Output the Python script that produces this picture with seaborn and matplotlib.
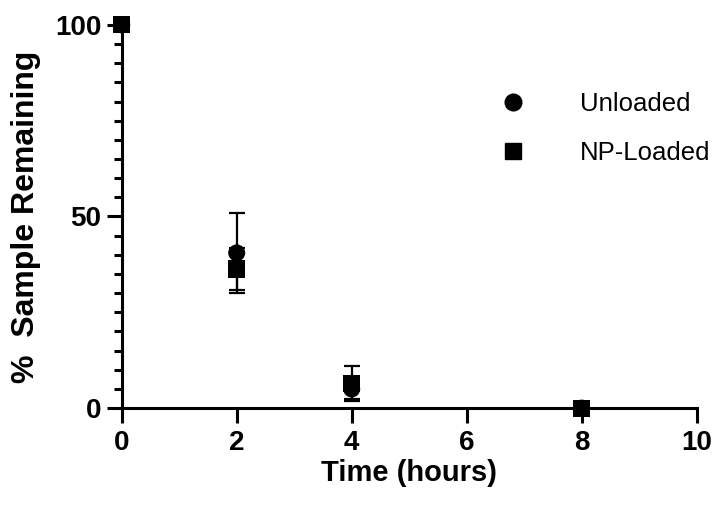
import matplotlib
matplotlib.use("Agg")
import matplotlib.pyplot as plt
import seaborn as sns
import pandas as pd
import numpy as np
from matplotlib.ticker import MultipleLocator
from matplotlib.lines import Line2D

sns.set_theme(style="ticks", rc={
    "text.color": "black", "axes.labelcolor": "black",
    "xtick.color": "black", "ytick.color": "black", "axes.edgecolor": "black",
})
plt.rcParams['font.family'] = ['Liberation Sans', 'DejaVu Sans']

# ---- data ----
time_hours = [0, 2, 4, 8]
unloaded_mean = [100, 40.5, 5.0, 0]
unloaded_sd = [0, 10.4, 2.6, 0]
nploaded_mean = [100, 36.3, 6.5, 0]
nploaded_sd = [0, 5.5, 4.6, 0]
series_names = ["Unloaded", "NP-Loaded"]
x_ticks = [0, 2, 4, 6, 8, 10]
y_ticks = [0, 50, 100]

df = pd.DataFrame({
    "time": time_hours * 2,
    "value": unloaded_mean + nploaded_mean,
    "sd": unloaded_sd + nploaded_sd,
    "group": [series_names[0]] * len(time_hours) + [series_names[1]] * len(time_hours),
})

fig = plt.figure(figsize=(7.16, 5.07), dpi=100)
ax = fig.add_axes([0.170, 0.195, 0.803, 0.756])

lw = 2.2
for name in series_names:
    sub = df[df.group == name]
    eb = ax.errorbar(sub.time, sub.value, yerr=sub.sd, fmt='none', ecolor='black',
                     elinewidth=1.6, capsize=5.8, capthick=1.6, zorder=2)
    for c in eb.get_children():
        c.set_clip_on(False)

sns.scatterplot(data=df, x="time", y="value", style="group",
                markers={"Unloaded": "o", "NP-Loaded": "s"},
                color="black", s=150, linewidth=0, ax=ax, legend=False, zorder=3)
for coll in ax.collections:
    coll.set_clip_on(False)

ax.set_xlim(0, 10)
ax.set_ylim(0, 100)
ax.set_xticks(x_ticks)
ax.set_yticks(y_ticks)
ax.yaxis.set_minor_locator(MultipleLocator(5))

for side in ["top", "right"]:
    ax.spines[side].set_visible(False)
for side in ["left", "bottom"]:
    ax.spines[side].set_linewidth(lw)
    ax.spines[side].set_color("black")

ax.tick_params(axis="both", which="major", length=10.5, width=lw, color="black",
               labelsize=20, pad=4, direction="out")
ax.tick_params(axis="x", which="major", pad=5.5)
ax.tick_params(axis="y", which="minor", length=6, width=lw, color="black", direction="out")
for lab in ax.get_xticklabels() + ax.get_yticklabels():
    lab.set_fontweight("bold")

ax.set_xlabel("Time (hours)", fontsize=21, fontweight="bold", labelpad=2)
ax.set_ylabel("%  Sample Remaining", fontsize=23, fontweight="bold", labelpad=10)

handles = [
    Line2D([], [], marker="o", color="black", linestyle="none", markersize=12),
    Line2D([], [], marker="s", color="black", linestyle="none", markersize=12),
]
leg = ax.legend(handles, series_names, loc="upper left",
                bbox_to_anchor=(487 / 716, 1 - 79 / 507),
                bbox_transform=fig.transFigure, frameon=False, fontsize=18.5,
                borderpad=0, handletextpad=2.1, labelspacing=0.98, handlelength=1.0)

fig.savefig("out.png", dpi=100)
